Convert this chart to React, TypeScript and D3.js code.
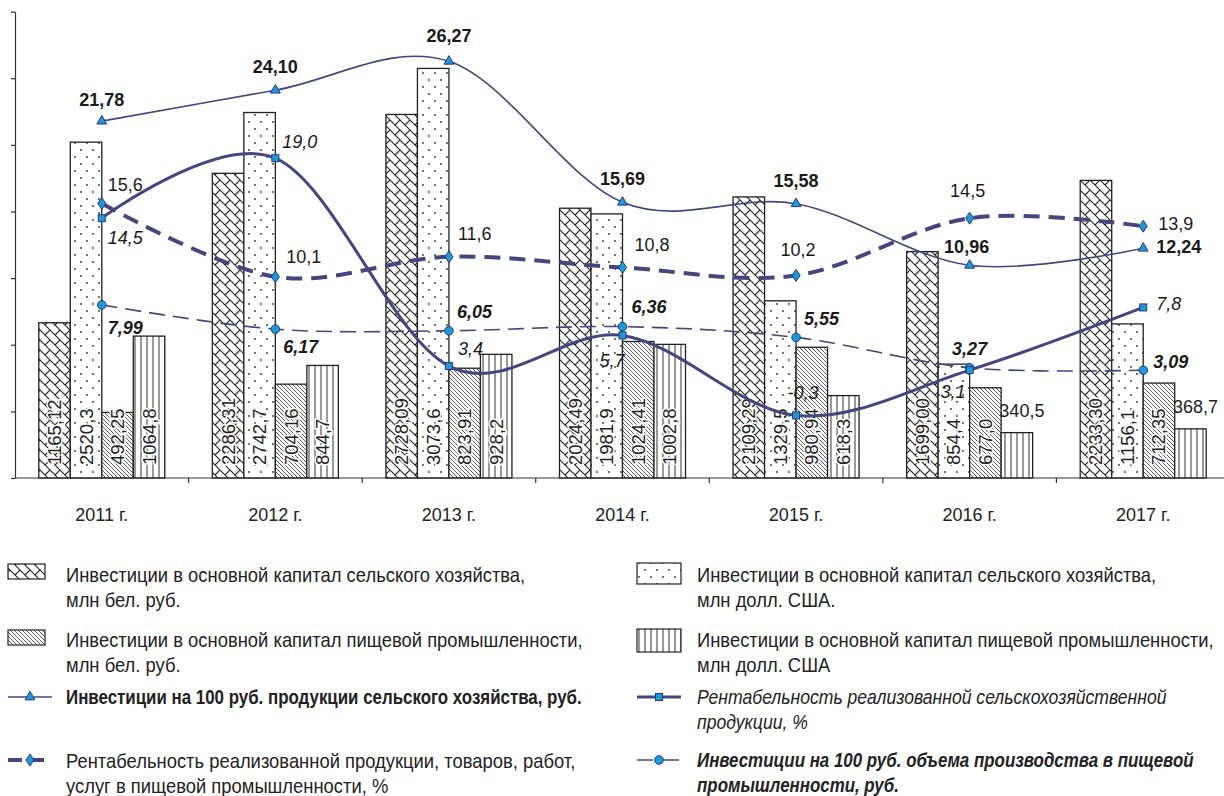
import React, { useEffect, useRef } from 'react';
import * as d3 from 'd3';

const years = ['2011 г.', '2012 г.', '2013 г.', '2014 г.', '2015 г.', '2016 г.', '2017 г.'];

// bars (values as printed in the source)
const agriRub = ['1165,12', '2286,31', '2728,09', '2024,49', '2109,29', '1699,00', '2233,30'];
const agriUsd = ['2520,3', '2742,7', '3073,6', '1981,9', '1329,5', '854,4', '1156,1'];
const foodRub = ['492,25', '704,16', '823,91', '1024,41', '980,94', '677,0', '712,35'];
const foodUsd = ['1064,8', '844,7', '928,2', '1002,8', '618,3', '340,5', '368,7'];

// lines (secondary scale)
const agriPer100 = ['21,78', '24,10', '26,27', '15,69', '15,58', '10,96', '12,24'];
const agriProfit = ['14,5', '19,0', '3,4', '5,7', '-0,3', '3,1', '7,8'];
const foodProfit = ['15,6', '10,1', '11,6', '10,8', '10,2', '14,5', '13,9'];
const foodPer100 = ['7,99', '6,17', '6,05', '6,36', '5,55', '3,27', '3,09'];

const barTicks = [0, 500, 1000, 1500, 2000, 2500, 3000, 3500];
const lineDomain = [-5, 30];

const legendLeft = [
    ['Инвестиции в основной капитал сельского хозяйства,', 'млн бел. руб.'],
    ['Инвестиции в основной капитал пищевой промышленности,', 'млн бел. руб.'],
    ['Инвестиции на 100 руб. продукции сельского хозяйства, руб.'],
    ['Рентабельность реализованной продукции, товаров, работ,', 'услуг в пищевой промышленности, %']
];
const legendRight = [
    ['Инвестиции в основной капитал сельского хозяйства,', 'млн долл. США.'],
    ['Инвестиции в основной капитал пищевой промышленности,', 'млн долл. США'],
    ['Рентабельность реализованной сельскохозяйственной', 'продукции, %'],
    ['Инвестиции на 100 руб. объема производства в пищевой', 'промышленности, руб.']
];

const num = (s: string) => +s.replace(',', '.');

const SANS = '"Liberation Sans", Arial, sans-serif';
const LINE = '#46467e';
const MARK = '#1b9ad6';
const MARK_STROKE = '#2c3580';

// label offsets [dx, dy, anchor] per point
const triLabels = [[0, -15, 'middle'], [0, -17, 'middle'], [0, -19, 'middle'], [0, -17, 'middle'], [0, -17, 'middle'], [-3, -12, 'middle'], [13, 5, 'start']];
const sqLabels = [[6, 26, 'start'], [7, -10, 'start'], [9, -11, 'start'], [2, 32, 'end'], [7, -16, 'middle'], [-4, 28, 'end'], [13, 3, 'start']];
const diaLabels = [[6, -12, 'start'], [11, -14, 'start'], [9, -17, 'start'], [12, -16, 'start'], [2, -19, 'middle'], [-2, -21, 'middle'], [15, 4, 'start']];
const cirLabels = [[6, 29, 'start'], [8, 24, 'start'], [8, -13, 'start'], [9, -14, 'start'], [8, -12, 'start'], [0, -13, 'middle'], [10, -2, 'start']];

const App = () => {
    const svgRef = useRef<SVGSVGElement>(null);

    useEffect(() => {
        if (!svgRef.current) return;
        const width = 1224;
        const height = 796;
        const svg = d3.select(svgRef.current).attr('width', width).attr('height', height);
        svg.selectAll('*').remove();

        const top = 11.6, bottom = 478, left = 15;

        // patterns
        const defs = svg.append('defs');
        const cross = defs.append('pattern').attr('id', 'p-cross').attr('patternUnits', 'userSpaceOnUse')
            .attr('width', 10).attr('height', 10);
        cross.append('rect').attr('width', 10).attr('height', 10).attr('fill', '#fff');
        cross.append('path').attr('d', 'M0,0L10,10M-2,8L2,12M8,-2L12,2M5,5L10,0')
            .attr('stroke', '#222').attr('stroke-width', 1.1).attr('fill', 'none');

        const dots = defs.append('pattern').attr('id', 'p-dots').attr('patternUnits', 'userSpaceOnUse')
            .attr('width', 12).attr('height', 14);
        dots.append('rect').attr('width', 12).attr('height', 14).attr('fill', '#fff');
        dots.append('circle').attr('cx', 3).attr('cy', 3).attr('r', 0.9).attr('fill', '#333');
        dots.append('circle').attr('cx', 9).attr('cy', 10).attr('r', 0.9).attr('fill', '#333');

        const diag = defs.append('pattern').attr('id', 'p-diag').attr('patternUnits', 'userSpaceOnUse')
            .attr('width', 4).attr('height', 4);
        diag.append('rect').attr('width', 4).attr('height', 4).attr('fill', '#fff');
        diag.append('path').attr('d', 'M0,0L4,4M-1,3L1,5M3,-1L5,1')
            .attr('stroke', '#333').attr('stroke-width', 0.8);

        const vert = defs.append('pattern').attr('id', 'p-vert').attr('patternUnits', 'userSpaceOnUse')
            .attr('width', 6).attr('height', 10);
        vert.append('rect').attr('width', 6).attr('height', 10).attr('fill', '#fff');
        vert.append('line').attr('x1', 3).attr('x2', 3).attr('y1', 0).attr('y2', 10)
            .attr('stroke', '#333').attr('stroke-width', 1);

        const x = d3.scaleBand().domain(years).range([left, 1230]).padding(0);
        const inner = d3.scaleBand().domain(['a', 'b', 'c', 'd']).range([-63, 63]);
        const yBar = d3.scaleLinear().domain([0, 3500]).range([bottom, top]);
        const yLine = d3.scaleLinear().domain(lineDomain).range([bottom, top]);
        const cx = (d: string) => (x(d) as number) + x.bandwidth() / 2;

        // axes
        svg.append('g').attr('transform', `translate(${left},0)`)
            .call(d3.axisLeft(yBar).tickValues(barTicks).tickSize(4).tickSizeOuter(0).tickFormat(() => ''))
            .call(g => g.selectAll('line,path').attr('stroke', '#333').attr('stroke-width', 1.2));

        const bars = [
            { key: 'a', vals: agriRub, fill: 'url(#p-cross)' },
            { key: 'b', vals: agriUsd, fill: 'url(#p-dots)' },
            { key: 'c', vals: foodRub, fill: 'url(#p-diag)' },
            { key: 'd', vals: foodUsd, fill: 'url(#p-vert)' }
        ];

        bars.forEach(s => {
            const g = svg.append('g');
            g.selectAll('rect').data(s.vals).enter().append('rect')
                .attr('x', (d, i) => cx(years[i]) + (inner(s.key) as number))
                .attr('y', d => yBar(num(d)))
                .attr('width', inner.bandwidth())
                .attr('height', d => bottom - yBar(num(d)))
                .attr('fill', s.fill)
                .attr('stroke', '#222')
                .attr('stroke-width', 1.3);
        });

        // bar labels
        bars.forEach(s => {
            s.vals.forEach((d, i) => {
                const bx = cx(years[i]) + (inner(s.key) as number) + inner.bandwidth() / 2;
                const h = bottom - yBar(num(d));
                if (h < 55) {
                    svg.append('text')
                        .attr('x', bx + 5).attr('y', yBar(num(d)) - 16)
                        .attr('text-anchor', 'middle')
                        .attr('font-family', SANS).attr('font-size', 18).attr('fill', '#222')
                        .text(d);
                } else {
                    svg.append('text')
                        .attr('transform', `translate(${bx + 6.5},${bottom - 13}) rotate(-90)`)
                        .attr('font-family', SANS).attr('font-size', 18.5).attr('fill', '#222')
                        .attr('stroke', '#fff').attr('stroke-width', 3).attr('paint-order', 'stroke')
                        .text(d);
                }
            });
        });

        // x axis
        svg.append('line').attr('x1', left).attr('x2', width).attr('y1', bottom).attr('y2', bottom)
            .attr('stroke', '#333').attr('stroke-width', 1.2);
        years.slice(1).forEach(y => {
            svg.append('line').attr('x1', x(y) as number).attr('x2', x(y) as number)
                .attr('y1', bottom).attr('y2', bottom + 5).attr('stroke', '#333').attr('stroke-width', 1.2);
        });
        svg.append('g').selectAll('text').data(years).enter().append('text')
            .attr('x', d => cx(d)).attr('y', 521)
            .attr('text-anchor', 'middle')
            .attr('font-family', SANS).attr('font-size', 18).attr('fill', '#222')
            .text(d => d);

        // lines
        const symbols: Record<string, (g: any) => void> = {
            tri: g => g.append('path').attr('d', d3.symbol(d3.symbolTriangle, 42)()),
            sq: g => g.append('rect').attr('x', -3.5).attr('y', -3.5).attr('width', 7).attr('height', 7),
            dia: g => g.append('path').attr('d', 'M0,-6L4,0L0,6L-4,0Z'),
            cir: g => g.append('circle').attr('r', 4.3)
        };

        const series = [
            { vals: foodPer100, w: 1.6, dash: '16,8', sym: 'cir', weight: 'bold', style: 'italic', labels: cirLabels },
            { vals: foodProfit, w: 4, dash: '16,9', sym: 'dia', weight: 'normal', style: 'normal', labels: diaLabels },
            { vals: agriProfit, w: 3, dash: null, sym: 'sq', weight: 'normal', style: 'italic', labels: sqLabels },
            { vals: agriPer100, w: 1.6, dash: null, sym: 'tri', weight: 'bold', style: 'normal', labels: triLabels }
        ];

        const lineGen = d3.line<string>()
            .x((d, i) => cx(years[i]))
            .y(d => yLine(num(d)))
            .curve(d3.curveCardinal.tension(0));

        series.forEach(s => {
            svg.append('path').attr('d', lineGen(s.vals))
                .attr('fill', 'none').attr('stroke', LINE).attr('stroke-width', s.w)
                .attr('stroke-dasharray', s.dash);
        });
        series.forEach(s => {
            s.vals.forEach((d, i) => {
                const g = svg.append('g').attr('transform', `translate(${cx(years[i])},${yLine(num(d))})`)
                    .attr('fill', MARK).attr('stroke', MARK_STROKE).attr('stroke-width', 1);
                symbols[s.sym](g);
            });
        });
        series.forEach(s => {
            s.vals.forEach((d, i) => {
                const [dx, dy, anchor] = s.labels[i] as [number, number, string];
                svg.append('text')
                    .attr('x', cx(years[i]) + dx).attr('y', yLine(num(d)) + dy)
                    .attr('text-anchor', anchor)
                    .attr('font-family', SANS).attr('font-size', 18)
                    .attr('font-weight', s.weight).attr('font-style', s.style)
                    .attr('fill', '#1a1a1a')
                    .text(d);
            });
        });

        // legend
        const lg = svg.append('g').attr('font-family', SANS).attr('font-size', 20).attr('fill', '#222');
        const patch = (px: number, py: number, w: number, h: number, fill: string) =>
            lg.append('rect').attr('x', px).attr('y', py).attr('width', w).attr('height', h)
                .attr('fill', fill).attr('stroke', '#222').attr('stroke-width', 1.2);
        const sample = (px: number, py: number, w: number, dash: string | null, sym: string) => {
            lg.append('line').attr('x1', px).attr('x2', px + 44).attr('y1', py).attr('y2', py)
                .attr('stroke', LINE).attr('stroke-width', w).attr('stroke-dasharray', dash);
            const g = lg.append('g').attr('transform', `translate(${px + 22},${py})`)
                .attr('fill', MARK).attr('stroke', MARK_STROKE).attr('stroke-width', 1);
            symbols[sym](g);
        };
        const label = (tx: number, ty: number, lines: string[], weight: string, style: string) => {
            const sx = weight === 'bold' ? 0.845 : style === 'italic' ? 0.88 : 0.92;
            lines.forEach((t, k) => {
                lg.append('text').attr('transform', `translate(${tx},${ty + k * 25}) scale(${sx},1)`)
                    .attr('font-weight', weight).attr('font-style', style).text(t);
            });
        };

        patch(8, 564, 37, 15, 'url(#p-cross)');
        label(66, 582, legendLeft[0], 'normal', 'normal');
        patch(8, 630, 37, 15, 'url(#p-diag)');
        label(66, 647, legendLeft[1], 'normal', 'normal');
        sample(8, 697, 1.4, null, 'tri');
        label(66, 704, legendLeft[2], 'bold', 'normal');
        sample(8, 760, 4, '14,8', 'dia');
        label(66, 768, legendLeft[3], 'normal', 'normal');

        patch(637, 563, 44, 21, 'url(#p-dots)');
        label(697, 582, legendRight[0], 'normal', 'normal');
        patch(637, 629, 44, 23, 'url(#p-vert)');
        label(697, 647, legendRight[1], 'normal', 'normal');
        sample(637, 697, 3, null, 'sq');
        label(697, 704, legendRight[2], 'normal', 'italic');
        sample(637, 760, 1.4, '16,10', 'cir');
        label(697, 767, legendRight[3], 'bold', 'italic');
    }, []);

    return (
        <div style={{ position: 'absolute', left: 0, top: 0, background: '#fff' }}>
            <svg ref={svgRef} style={{ display: 'block' }}></svg>
        </div>
    );
};

export default App;
